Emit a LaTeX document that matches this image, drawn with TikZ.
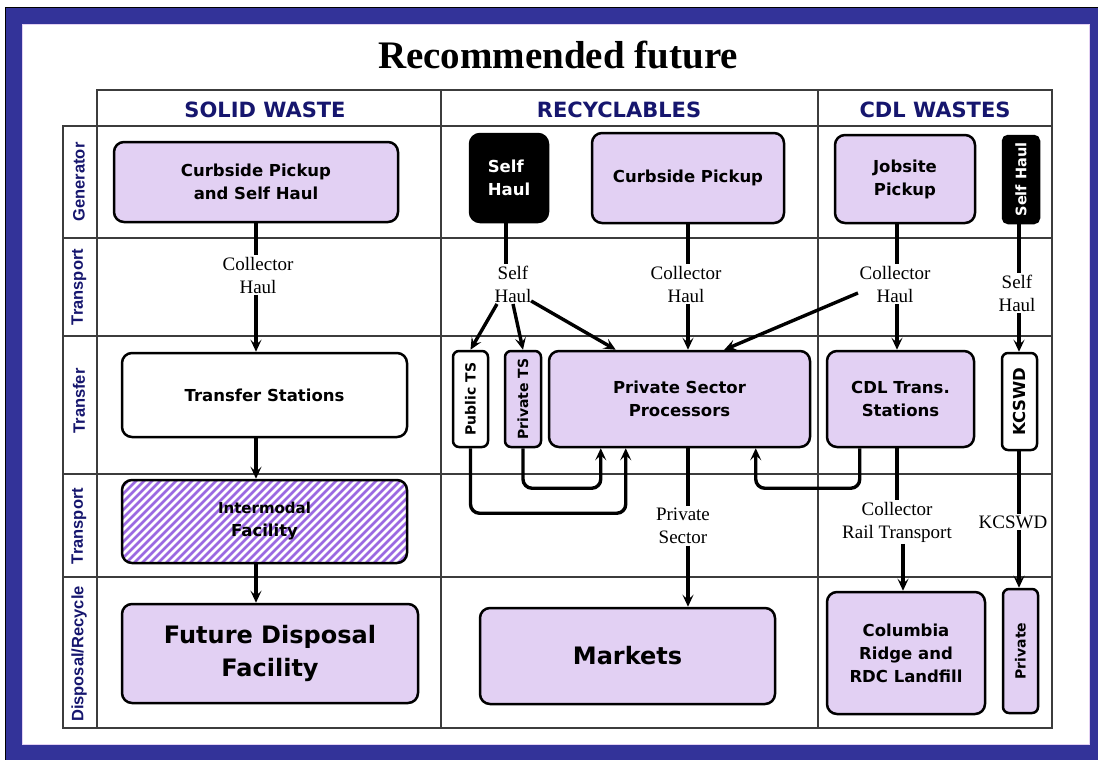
\documentclass[tikz,border=0pt]{standalone}
\usepackage{fontspec}
\setmainfont{Liberation Serif}
\newfontfamily\dvs{DejaVu Sans}
\newfontfamily\lbs{Liberation Sans}
\usetikzlibrary{arrows.meta}
\definecolor{frameblue}{RGB}{51,51,153}
\definecolor{lav}{RGB}{226,208,243}
\definecolor{navy}{RGB}{22,22,110}
\definecolor{stripec}{RGB}{155,105,225}
\definecolor{gridc}{RGB}{60,60,60}
\begin{document}
\begin{tikzpicture}[x=1pt,y=-1pt,
  box/.style={draw=black, line width=2.5pt, rounded corners=10pt, fill=lav,
    font=\dvs\bfseries\fontsize{16.5}{23}\selectfont, align=center, inner sep=0pt},
  blk/.style={box, fill=black, text=white},
  bigbox/.style={box, font=\dvs\bfseries\fontsize{24}{33}\selectfont},
  hdr/.style={font=\dvs\bfseries\fontsize{21}{24}\selectfont, text=navy},
  rowlab/.style={font=\lbs\bfseries\fontsize{16.5}{18}\selectfont, text=navy},
  lbl/.style={font=\fontsize{19}{23}\selectfont, align=center, inner sep=1.5pt},
  gridline/.style={draw=gridc, line width=1.4pt},
  conn/.style={line width=3.4pt},
  arr/.style={conn, -{Stealth[length=12pt,width=11pt,inset=5pt]}},
  stripe/.style={draw=stripec, line width=2.6pt}
]
\useasboundingbox (0,0) rectangle (1098,760);
\fill[white] (0,0) rectangle (1098,760);
\draw[fill=frameblue, draw=black, line width=1pt] (5,8) rectangle (1110,770);
\fill[white] (22,25) rectangle (1089,744);
\draw[lav, line width=1pt] (22,25) rectangle (1089,744);

% title
\node[font=\bfseries\fontsize{39}{44}\selectfont] (title) at (558,55) {Recommended future};

% grid
\draw[gridline] (97,90) rectangle (1052,728);
\draw[gridline] (63,126) rectangle (97,728);
\foreach \y in {126,238,336,474,577} \draw[gridline] (63,\y) -- (1052,\y);
\foreach \x in {441,818} \draw[gridline] (\x,90) -- (\x,728);

% headers
\node[hdr] (h1) at (265,110) {SOLID WASTE};
\node[hdr] (h2) at (619,110) {RECYCLABLES};
\node[hdr] (h3) at (935,110) {CDL WASTES};

% row labels
\node[rowlab] (r1) at (79,182) {\rotatebox{90}{Generator}};
\node[rowlab] (r2) at (79,287) {\rotatebox{90}{Transport}};
\node[rowlab] (r3) at (79,401) {\rotatebox{90}{Transfer}};
\node[rowlab] (r4) at (79,526) {\rotatebox{90}{Transport}};
\node[rowlab] (r5) at (79,654) {\rotatebox{90}{Disposal/Recycle}};

% solid waste
\node[box, minimum width=284pt, minimum height=80pt] (csw) at (256,182) {Curbside Pickup\\and Self Haul};
\node[box, fill=white, minimum width=285pt, minimum height=84pt] (ts) at (264.5,395) {Transfer Stations};
\node[box, fill=white, minimum width=285pt, minimum height=83pt,
  path picture={\foreach \k in {-100,-92,...,300}
    \draw[stripe] ([xshift=\k pt]path picture bounding box.south west) -- ++(100pt,100pt);}]
  (im) at (264.5,521.5) {\fontsize{15}{24}\selectfont Intermodal\\Facility};
\node[bigbox, minimum width=296pt, minimum height=99pt] (fdf) at (270,653.5) {Future Disposal\\Facility};

% recyclables
\node[blk, minimum width=78pt, minimum height=88pt, align=left] (rsh) at (509,178) {Self\\Haul};
\node[box, minimum width=192pt, minimum height=90pt] (rcp) at (688,178) {Curbside Pickup};
\node[box, fill=white, minimum width=35pt, minimum height=96pt, rounded corners=6pt] (pubts) at (470.5,399) {\fontsize{14}{16}\selectfont\rotatebox{90}{Public TS}};
\node[box, minimum width=36pt, minimum height=96pt, rounded corners=6pt] (privts) at (523,399) {\fontsize{14}{16}\selectfont\rotatebox{90}{Private TS}};
\node[box, minimum width=261pt, minimum height=96pt] (psp) at (679.5,399) {Private Sector\\Processors};
\node[bigbox, minimum width=295pt, minimum height=96pt] (mkt) at (627.5,656) {Markets};

% CDL
\node[box, minimum width=140pt, minimum height=88pt] (job) at (905,179) {Jobsite\\Pickup};
\node[blk, minimum width=36pt, minimum height=87pt, rounded corners=5pt] (csh) at (1021,179.5) {\fontsize{14.5}{16}\selectfont\rotatebox{90}{Self Haul}};
\node[box, minimum width=147pt, minimum height=96pt] (cdlts) at (900.5,399) {CDL Trans.\\Stations};
\node[box, fill=white, minimum width=35pt, minimum height=97pt, rounded corners=6pt] (kcswd) at (1019.5,401.5) {\rotatebox{90}{KCSWD}};
\node[box, minimum width=158pt, minimum height=122pt] (col) at (906,653) {Columbia\\Ridge and\\RDC Landfill};
\node[box, minimum width=35pt, minimum height=124pt, rounded corners=6pt] (priv) at (1020.5,651) {\fontsize{14}{16}\selectfont\rotatebox{90}{Private}};

% labels
\node[lbl] (l1) at (258,275) {Collector\\Haul};
\node[lbl] (l2) at (513,284) {Self\\Haul};
\node[lbl] (l3) at (686,284) {Collector\\Haul};
\node[lbl] (l4) at (895,284) {Collector\\Haul};
\node[lbl] (l5) at (1017,293) {Self\\Haul};
\node[lbl] (l6) at (683,526) {Private\\Sector};
\node[lbl] (l7) at (897,522) {Collector\\Rail Transport};
\node[lbl] (l8) at (1013,522) {KCSWD};

% column coordinates
\coordinate (cA) at (256,0);
\coordinate (cB) at (506,0);
\coordinate (cC) at (688,0);
\coordinate (cD) at (897,0);
\coordinate (cE) at (1019,0);
\coordinate (cF) at (903,0);

% connectors: solid waste
\draw[conn] (csw.south -| cA) -- (l1.north -| cA);
\draw[arr] (l1.south -| cA) -- (ts.north -| cA);
\draw[arr] (ts.south -| cA) -- (im.north -| cA);
\draw[arr] (im.south -| cA) -- (fdf.north -| cA);

% recyclables
\draw[conn] (rsh.south -| cB) -- (l2.north -| cB);
\draw[arr] ([xshift=-16pt]l2.south) -- (pubts.north);
\draw[arr] (l2.south) -- (privts.north);
\draw[arr] ([xshift=-2pt,yshift=3pt]l2.south east) -- ([xshift=68pt]psp.north west);
\draw[conn] (rcp.south -| cC) -- (l3.north -| cC);
\draw[arr] (l3.south -| cC) -- (psp.north -| cC);
\draw[arr, rounded corners=9pt] (privts.south) -- ++(0,40) -| ([xshift=53pt]psp.south west);
\draw[arr, rounded corners=9pt] (pubts.south) -- ++(0,65) -| ([xshift=78pt]psp.south west);
\draw[arr, rounded corners=9pt] ([xshift=34pt]cdlts.south west) -- ++(0,40) -| ([xshift=208pt]psp.south west);
\draw[conn] (psp.south -| cC) -- (l6.north -| cC);
\draw[arr] (l6.south -| cC) -- (mkt.north -| cC);

% CDL
\draw[conn] (job.south -| cD) -- (l4.north -| cD);
\draw[arr] (l4.south -| cD) -- (cdlts.north -| cD);
\draw[arr] ([yshift=-9pt]l4.west) -- ([xshift=-87pt]psp.north east);
\draw[conn] (csh.south -| cE) -- (l5.north -| cE);
\draw[arr] (l5.south -| cE) -- (kcswd.north -| cE);
\draw[conn] (cdlts.south -| cD) -- (l7.north -| cD);
\draw[arr] (l7.south -| cF) -- (col.north -| cF);
\draw[conn] (kcswd.south -| cE) -- (l8.north -| cE);
\draw[arr] (l8.south -| cE) -- (priv.north -| cE);
\end{tikzpicture}
\end{document}
